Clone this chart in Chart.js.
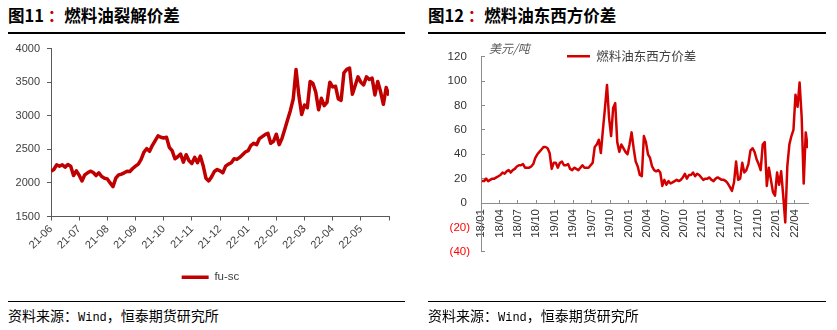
<!DOCTYPE html>
<html>
<head>
<meta charset="utf-8">
<script src="https://cdn.jsdelivr.net/npm/chart.js@4.4.1/dist/chart.umd.min.js"></script>
<style>
  body { margin: 0; background: #fff; }
  #page { position: relative; width: 837px; height: 330px; overflow: hidden; font-family: "Noto Sans CJK SC", sans-serif; }
  .title { position: absolute; top: 4px; font-size: 16.5px; font-weight: bold; line-height: 22px; color: #000; white-space: nowrap; }
  .title .colon { color: #c00000; }
  .rule-top { position: absolute; top: 32px; height: 2px; background: #000; }
  .rule-bot { position: absolute; top: 301px; height: 1px; background: #000; }
  .source { position: absolute; top: 305px; font-size: 14px; line-height: 20px; color: #000; white-space: nowrap; }
  .source .mono { font-family: "Liberation Mono", monospace; font-size: 12px; }
  .box { position: absolute; top: 35px; }
  .unit { position: absolute; left: 489px; top: 40px; font-size: 12px; line-height: 16px; color: #595959; font-style: italic; }
</style>
</head>
<body>
<div id="page">
  <div class="title" style="left:8px">图11 <span class="colon">：</span>燃料油裂解价差</div>
  <div class="title" style="left:428px">图12 <span class="colon">：</span>燃料油东西方价差</div>
  <div class="rule-top" style="left:8px;width:397px"></div>
  <div class="rule-top" style="left:428px;width:398px"></div>

  <div class="box" style="left:0px"><canvas id="crackChart" width="422" height="265"></canvas></div>
  <div class="box" style="left:420px"><canvas id="spreadChart" width="417" height="265"></canvas></div>
  <div class="unit">美元/吨</div>

  <div class="rule-bot" style="left:8px;width:397px"></div>
  <div class="rule-bot" style="left:428px;width:398px"></div>
  <div class="source" style="left:8px">资料来源：<span class="mono">Wind</span>，恒泰期货研究所</div>
  <div class="source" style="left:428px">资料来源：<span class="mono">Wind</span>，恒泰期货研究所</div>
</div>

<script>
// 图11 fu-sc, 10 readings per month
const monthLabels = ['21-06', '21-07', '21-08', '21-09', '21-10', '21-11', '21-12', '22-01', '22-02', '22-03', '22-04', '22-05'];
const crackJun21 = [2175, 2200, 2270, 2250, 2270, 2235, 2275, 2250, 2110, 2180];
const crackJul21 = [2115, 2030, 2120, 2150, 2175, 2155, 2110, 2150, 2095, 2070];
const crackAug21 = [2060, 2000, 1945, 2070, 2120, 2130, 2150, 2175, 2170, 2215];
const crackSep21 = [2250, 2280, 2350, 2460, 2510, 2470, 2560, 2630, 2700, 2680];
const crackOct21 = [2670, 2680, 2530, 2480, 2360, 2390, 2430, 2310, 2420, 2330];
const crackNov21 = [2290, 2380, 2300, 2400, 2260, 2070, 2030, 2090, 2170, 2200];
const crackDec21 = [2180, 2150, 2250, 2280, 2300, 2360, 2350, 2380, 2420, 2460];
const crackJan22 = [2480, 2560, 2590, 2570, 2660, 2690, 2720, 2740, 2590, 2620];
const crackFeb22 = [2725, 2570, 2660, 2800, 2940, 3080, 3250, 3690, 3300, 3020];
const crackMar22 = [3160, 3120, 3510, 3480, 3350, 3090, 3260, 3150, 3200, 3500];
const crackApr22 = [3430, 3440, 3250, 3230, 3640, 3690, 3710, 3320, 3450, 3580];
const crackMay22 = [3500, 3460, 3580, 3540, 3560, 3310, 3510, 3360, 3170, 3420];
const crackJun22 = [3300];

// 图12 东西方价差, 3 readings per month
const quarterLabels = ['18/01', '18/04', '18/07', '18/10', '19/01', '19/04', '19/07', '19/10', '20/01',
  '20/04', '20/07', '20/10', '21/01', '21/04', '21/07', '21/10', '22/01', '22/04'];
const spread2018 = [18, 18, 20, 18, 19, 20, 20, 21, 22, 23, 25, 24, 26, 27, 25, 27, 28, 30, 31, 31, 32, 29, 29, 29, 30, 32, 37, 40, 42, 44, 46, 46, 45, 41, 28, 33];
const spread2019 = [33, 29, 33, 34, 31, 31, 32, 28, 27, 29, 28, 27, 29, 31, 29, 29, 29, 31, 33, 46, 48, 52, 41, 60, 78, 97, 70, 55, 78, 82, 50, 42, 48, 45, 42, 40];
const spread2020 = [48, 58, 45, 34, 30, 23, 22, 55, 50, 40, 37, 30, 27, 26, 27, 25, 14, 19, 15, 18, 16, 17, 18, 19, 18, 19, 21, 24, 20, 23, 23, 25, 22, 24, 23, 21];
const spread2021 = [19, 20, 20, 21, 19, 18, 20, 21, 20, 19, 19, 18, 16, 13, 10, 17, 34, 19, 20, 33, 25, 27, 32, 43, 45, 42, 36, 32, 27, 48, 50, 14, 29, 19, 9, 6];
const spread2022 = [25, 15, 26, 6, -16, 30, 48, 55, 60, 89, 79, 99, 71, 16, 58, 45];

Chart.defaults.font.family = '"Liberation Sans", Arial, sans-serif';
Chart.defaults.font.size = 11;
Chart.defaults.color = '#404040';

const crackValues = [].concat(crackJun21, crackJul21, crackAug21, crackSep21, crackOct21, crackNov21,
  crackDec21, crackJan22, crackFeb22, crackMar22, crackApr22, crackMay22, crackJun22);
const crackPoints = crackValues.map((v, i) => ({ x: i / 10, y: v }));

const spreadValues = [].concat(spread2018, spread2019, spread2020, spread2021, spread2022);
const spreadPoints = spreadValues.map((v, i) => ({ x: (i + 0.5) / 3, y: v }));

// moves the legend after layout
const legendShift = {
  id: 'legendShift',
  afterLayout(chart, args, opts) {
    if (!chart.legend) return;
    const dx = opts.dx || 0, dy = opts.dy || 0;
    chart.legend.left += dx;
    chart.legend.right += dx;
    chart.legend.top += dy;
    chart.legend.bottom += dy;
  }
};

new Chart(document.getElementById('crackChart'), {
  type: 'line',
  data: {
    datasets: [{
      label: 'fu-sc',
      data: crackPoints,
      borderColor: '#c00000',
      backgroundColor: '#c00000',
      borderWidth: 3.5,
      borderJoinStyle: 'round',
      pointRadius: 0,
      tension: 0,
    }]
  },
  plugins: [legendShift],
  options: {
    responsive: false,
    animation: false,
    events: [],
    layout: { padding: { left: 0, top: 12, right: 33, bottom: 7 } },
    scales: {
      x: {
        type: 'linear',
        min: 0,
        max: 12,
        afterFit: (s) => { s.height = 47; },
        grid: { drawOnChartArea: false, tickLength: 4, color: '#595959' },
        border: { color: '#595959' },
        ticks: {
          stepSize: 1,
          autoSkip: false,
          minRotation: 45,
          maxRotation: 45,
          padding: 2,
          color: '#404040',
          callback: (v) => monthLabels[v] ?? ''
        }
      },
      y: {
        min: 1500,
        max: 4000,
        afterFit: (s) => { s.width = 51; },
        grid: { drawOnChartArea: false, tickLength: 4, color: '#595959' },
        border: { color: '#595959' },
        ticks: { stepSize: 500, padding: 7, color: '#404040', callback: (v) => String(v) }
      }
    },
    plugins: {
      legend: {
        position: 'bottom',
        labels: {
          usePointStyle: true,
          pointStyle: 'line',
          pointStyleWidth: 27,
          color: '#404040',
          font: { size: 11.5 },
          padding: 8
        }
      },
      legendShift: { dx: 16 },
      tooltip: { enabled: false }
    }
  }
});

new Chart(document.getElementById('spreadChart'), {
  type: 'line',
  data: {
    datasets: [{
      label: '燃料油东西方价差',
      data: spreadPoints,
      borderColor: '#d40000',
      backgroundColor: '#d40000',
      borderWidth: 2.5,
      borderJoinStyle: 'round',
      pointRadius: 0,
      tension: 0,
    }]
  },
  plugins: [legendShift],
  options: {
    responsive: false,
    animation: false,
    events: [],
    layout: { padding: { left: 0, top: 12.7, right: 29, bottom: 48.3 } },
    scales: {
      x: {
        type: 'linear',
        position: { y: 0 },
        min: 0,
        max: 53.2,
        grid: { drawOnChartArea: false, tickLength: -4, color: '#8c8c8c' },
        border: { color: '#8c8c8c' },
        ticks: {
          stepSize: 3,
          includeBounds: false,
          autoSkip: false,
          minRotation: 90,
          maxRotation: 90,
          padding: 10,
          color: '#333333',
          font: { size: 11.5 },
          callback: (v) => quarterLabels[v / 3] ?? ''
        }
      },
      y: {
        min: -40,
        max: 120,
        afterFit: (s) => { s.width = 61; },
        grid: { drawOnChartArea: false, tickLength: -4, color: '#8c8c8c' },
        border: { color: '#8c8c8c' },
        ticks: {
          stepSize: 20,
          padding: 15,
          font: { size: 11.5 },
          color: (ctx) => ctx.tick.value < 0 ? '#ff0000' : '#333333',
          callback: (v) => v < 0 ? '(' + (-v) + ')' : v + ' '
        }
      }
    },
    plugins: {
      legend: {
        position: 'chartArea',
        align: 'start',
        labels: {
          usePointStyle: true,
          pointStyle: 'line',
          pointStyleWidth: 23,
          color: '#404040',
          font: { size: 12.5, family: '"Noto Sans CJK SC", sans-serif' },
          padding: 4
        }
      },
      legendShift: { dx: 82, dy: 11 },
      tooltip: { enabled: false }
    }
  }
});
</script>
</body>
</html>
